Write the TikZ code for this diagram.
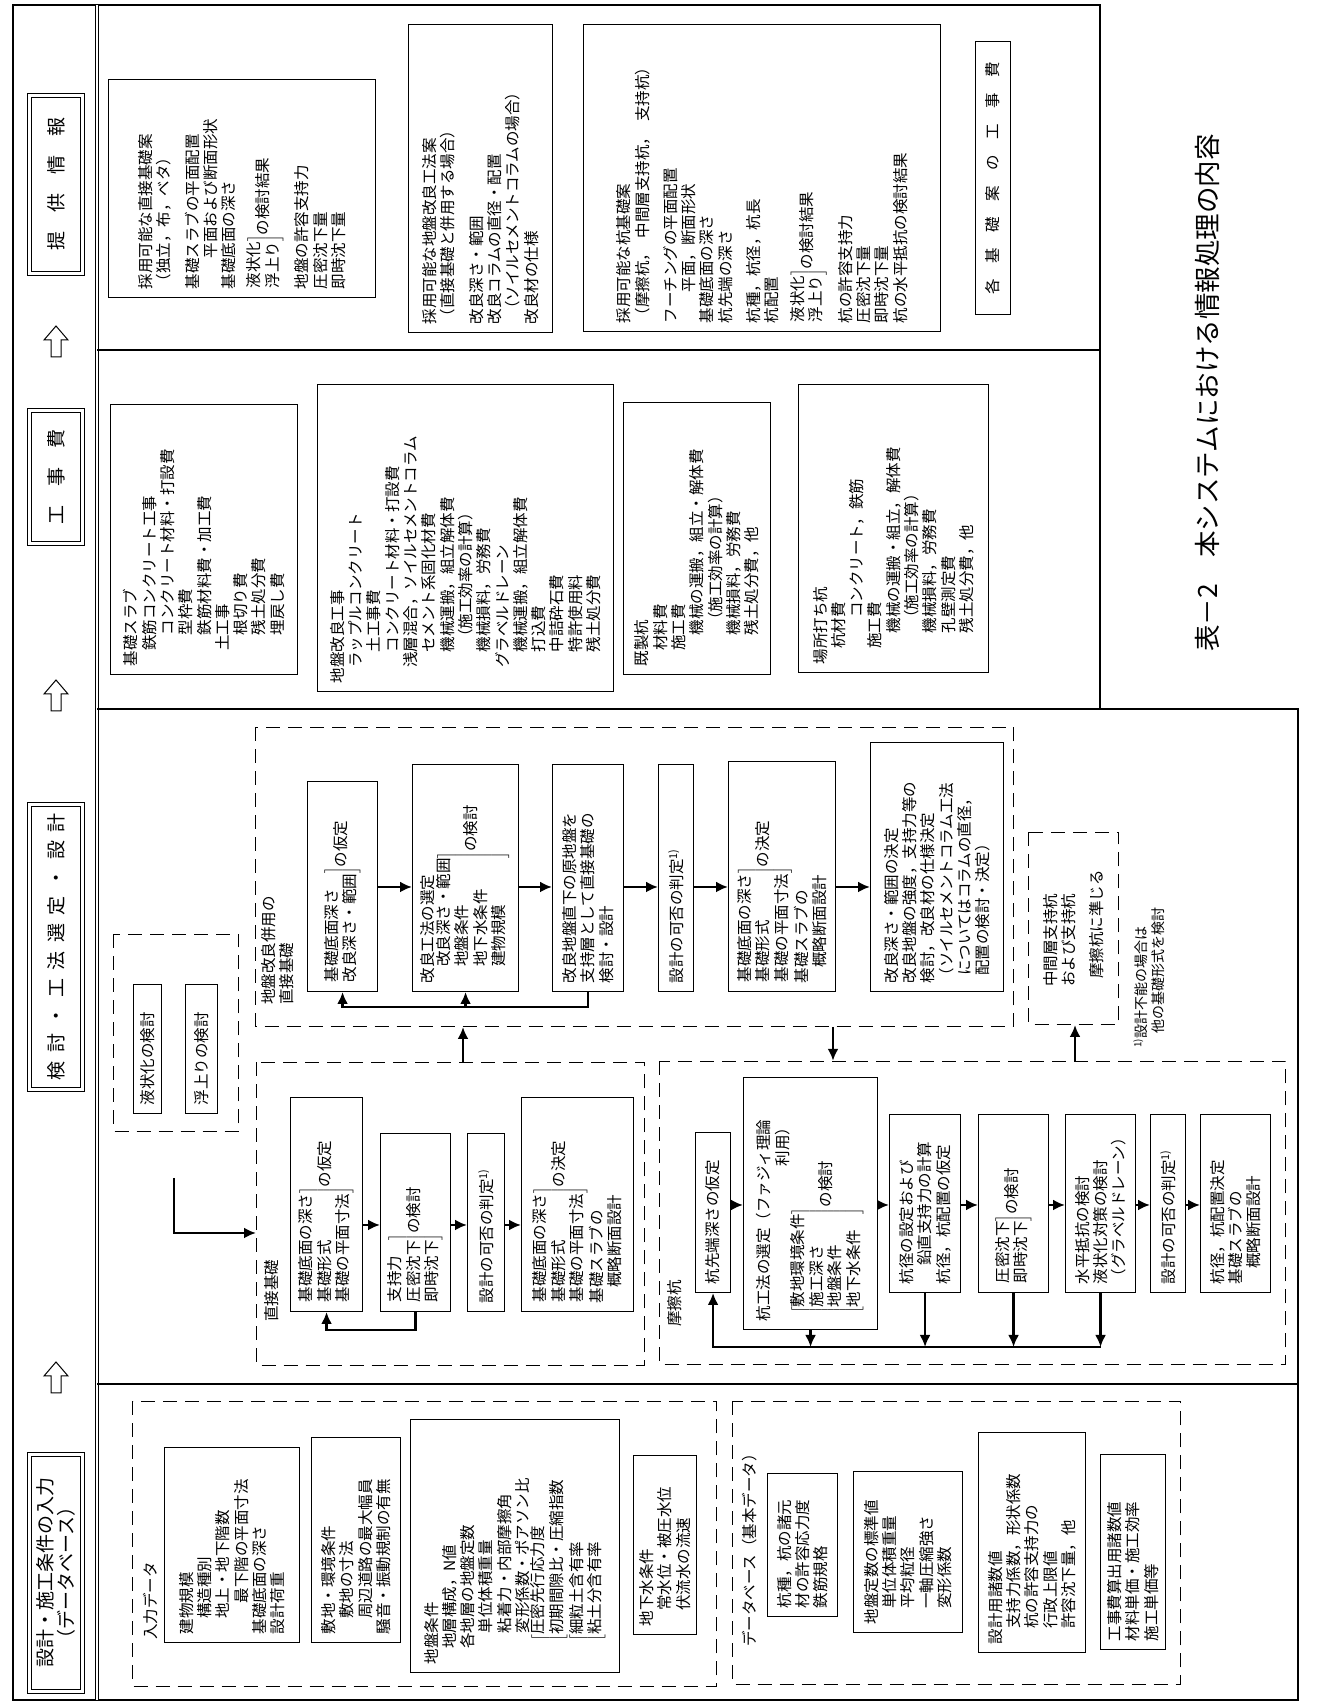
\documentclass[tikz,border=0pt]{standalone}
\usepackage{fontspec}
\setmainfont{Noto Sans CJK JP}
\usetikzlibrary{arrows.meta}

\newcommand{\bodyfont}{\fontsize{15.5}{18.3}\selectfont}
\newcommand{\headfont}{\fontsize{19}{21}\selectfont}
\newcommand{\jind}[1][1]{\hspace*{#1em}}
\newcommand{\rbr}[1]{$\left.\begin{tabular}{@{}l@{}}#1\end{tabular}\right]$}
\newcommand{\lbr}[1]{$\left[\begin{tabular}{@{}l@{}}#1\end{tabular}\right.$}
\newcommand{\bbr}[1]{$\left[\begin{tabular}{@{}l@{}}#1\end{tabular}\right]$}
\newcommand{\fnmark}{\textsuperscript{1)}}

\begin{document}
\begin{tikzpicture}[x=1pt, y=1pt,
  frameline/.style={line width=1.5pt},
  tbox/.style 2 args={draw, line width=1.1pt, align=left, anchor=north west,
    inner sep=3pt, font=\bodyfont, minimum width=#1pt, minimum height=#2pt,
    /utils/exec={\pgfmathsetlengthmacro\boxtw{#1pt-16pt}}, text width=\boxtw},
  cbox/.style 2 args={draw, line width=1.1pt, align=center, anchor=north west,
    inner sep=3pt, font=\bodyfont, minimum width=#1pt, minimum height=#2pt},
  dbox/.style 2 args={draw, line width=1.2pt, dash pattern=on 14pt off 8pt,
    anchor=north west, inner sep=0pt, align=left, font=\bodyfont,
    minimum width=#1pt, minimum height=#2pt},
  hbox/.style 2 args={draw, double, double distance=2.5pt, line width=1.2pt,
    anchor=north west, align=center, inner sep=1pt, font=\headfont,
    minimum width=#1pt, minimum height=#2pt},
  lbl/.style={anchor=west, align=left, inner sep=0pt, font=\bodyfont},
  arr/.style={-{Latex[length=12pt, width=11pt]}, line width=2.6pt},
  hollowarrow/.style={line width=1pt, fill=white}
]
\useasboundingbox (0,0) rectangle (1323,1705);
\begin{scope}[shift={(1323,0)}, rotate=90, transform shape]

% frame
\draw[frameline] (5,1310) -- (1700,1310) -- (1700,223) -- (996,223) -- (996,25) -- (5,25) -- cycle;
\draw[line width=0.9pt, double, double distance=2pt] (5,1226) -- (1700,1226);
\draw[frameline] (321,1226) -- (321,25);
\draw[frameline] (996,1226) -- (996,223);
\draw[frameline] (1355,1226) -- (1355,223);

% header row
\node[hbox={237}{53}] (hinput) at (13,1294) {設計・施工条件の入力\\（データベース）};
\node[hbox={285}{53}] (hstudy) at (615,1294) {検\jind[0.45]討\jind[0.45]・\jind[0.45]工\jind[0.45]法\jind[0.45]選\jind[0.45]定\jind[0.45]・\jind[0.45]設\jind[0.45]計};
\node[hbox={133}{53}] (hcost) at (1161,1294) {工\jind 事\jind 費};
\node[hbox={178}{53}] (hinfo) at (1431,1294) {提\jind 供\jind 情\jind 報};
\foreach \ax in {327,1009,1363}
  \draw[hollowarrow] ({\ax-15},1262) -- ({\ax+2},1262) -- ({\ax+2},1255) -- ({\ax+16},1267)
    -- ({\ax+2},1279) -- ({\ax+2},1272) -- ({\ax-15},1272) -- cycle;

% input data
\node[dbox={285}{584}] (indata) at (18,1191) {};
\node[lbl] (indatalbl) at (65,1172) {入力データ};
\node[tbox={195}{135}] (bldg) at (62,1159) {建物規模\\\jind 構造種別\\\jind 地上・地下階数\\\jind[2]最下階の平面寸法\\基礎底面の深さ\\設計荷重};
\node[tbox={205}{89}] (site) at (62,1012) {敷地・環境条件\\\jind 敷地の寸法\\\jind 周辺道路の最大幅員\\騒音・振動規制の有無};
\node[tbox={253}{209}] (soil) at (32,913) {地盤条件\\\jind 地層構成，N値\\\jind 各地層の地盤定数\\\jind[2]単位体積重量\\\jind[2]粘着力・内部摩擦角\\\jind[2]変形係数・ポアソン比\\\jind[1.5]\lbr{圧密先行応力度\\初期間隙比・圧縮指数}\\\jind[1.5]\lbr{細粒土含有率\\粘土分含有率}};
\node[tbox={179}{63}] (water) at (70,690) {地下水条件\\\jind 常水位・被圧水位\\\jind 伏流水の流速};

% database
\node[dbox={283}{448}] (dbase) at (20,591) {};
\node[lbl] (dbaselbl) at (58,573) {データベース（基本データ）};
\node[tbox={143}{70}] (pilespec) at (88,556) {杭種，杭の諸元\\材の許容応力度\\鉄筋規格};
\node[tbox={161}{109}] (soilstd) at (72,470) {地盤定数の標準値\\\jind 単位体積重量\\\jind 平均粒径\\\jind 一軸圧縮強さ\\\jind 変形係数};
\node[tbox={220}{107}] (designval) at (52,345) {設計用諸数値\\\jind 支持力係数，形状係数\\\jind 杭の許容支持力の\\\jind 行政上限値\\\jind 許容沈下量，他};
\node[tbox={195}{65}] (costval) at (55,223) {工事費算出用諸数値\\材料単価・施工効率\\施工単価等};

% liquefaction and uplift
\node[dbox={197}{125}] (liqgrp) at (573,1210) {};
\node[tbox={129}{28}] (liq) at (591,1190) {液状化の検討};
\node[tbox={129}{32}] (uplift) at (591,1138) {浮上りの検討};

% spread foundation
\node[dbox={303}{388}] (direct) at (339,1067) {};
\node[lbl] (directlbl) at (383,1051) {直接基礎};
\node[tbox={214}{72}] (a1) at (393,1033) {\rbr{基礎底面の深さ\\基礎形式\\基礎の平面寸法}の仮定};
\node[tbox={178}{70}] (a2) at (393,943) {\rbr{支持力\\圧密沈下\\即時沈下}の検討};
\node[tbox={178}{37}] (a3) at (393,856) {設計の可否の判定\fnmark};
\node[tbox={214}{112}] (a4) at (393,802) {\rbr{基礎底面の深さ\\基礎形式\\基礎の平面寸法}の決定\\基礎スラブの\\\jind 概略断面設計};
\coordinate (ax) at (480,0);
\draw[arr] (a1.south -| ax) -- (a2.north -| ax);
\draw[arr] (a2.south -| ax) -- (a3.north -| ax);
\draw[arr] (a3.south -| ax) -- (a4.north -| ax);
\draw[arr] (a2.west) -- ++(-18,0) |- (a1.west);
\coordinate (entry) at (527,1149);
\coordinate (lx) at (472,0);
\draw[arr] (entry) -| (direct.north -| lx);

% spread foundation with soil improvement
\node[dbox={299}{758}] (improve) at (678,1068) {};
\node[lbl, anchor=north west] (improvelbl) at (700,1062) {地盤改良併用の\\直接基礎};
\node[tbox={210}{70}] (c1) at (713,1016) {\rbr{基礎底面深さ\\改良深さ・範囲}の仮定};
\node[tbox={227}{106}] (c2) at (713,911) {改良工法の選定\\\jind\rbr{改良深さ・範囲\\地盤条件\\地下水条件\\建物規模}の検討};
\node[tbox={227}{71}] (c3) at (713,771) {改良地盤直下の原地盤を\\支持層として直接基礎の\\検討・設計};
\node[tbox={227}{35}] (c4) at (713,665) {設計の可否の判定\fnmark};
\node[tbox={230}{107}] (c5) at (713,595) {\rbr{基礎底面の深さ\\基礎形式\\基礎の平面寸法}の決定\\基礎スラブの\\\jind 概略断面設計};
\node[tbox={249}{133}] (c6) at (713,453) {改良深さ・範囲の決定\\改良地盤の強度，支持力等の\\検討，改良材の仕様決定\\（ソイルセメントコラム工法\\\jind[0.5]についてはコラムの直径，\\\jind[0.5]配置の検討・決定）};
\coordinate (cx) at (818,0);
\coordinate (cbus) at (698,0);
\draw[arr] (c1.south -| cx) -- (c2.north -| cx);
\draw[arr] (c2.south -| cx) -- (c3.north -| cx);
\draw[arr] (c3.south -| cx) -- (c4.north -| cx);
\draw[arr] (c4.south -| cx) -- (c5.north -| cx);
\draw[arr] (c5.south -| cx) -- (c6.north -| cx);
\draw[arr] (c3.west) -- (c3.west -| cbus) |- (c1.west);
\draw[arr] (c2.west -| cbus) -- (c2.west);

% intermediate layer piles and note
\node[dbox={192}{90}] (middle) at (680,295) {中間層支持杭\\および支持杭\\[10pt]\jind[0.5]摩擦杭に準じる};
\node[lbl, font=\fontsize{14}{17}\selectfont] (note) at (657,174) {\fnmark 設計不能の場合は\\\jind 他の基礎形式を検討};

% friction piles
\node[dbox={303}{626}] (friction) at (340,664) {};
\node[lbl] (frictionlbl) at (378,648) {摩擦杭};
\node[tbox={160}{35}] (b1) at (412,628) {杭先端深さの仮定};
\node[tbox={252}{134}] (b2) at (375,580) {杭工法の選定（ファジィ理論\\\jind[10]利用）\\\jind[0.5]\bbr{敷地環境条件\\施工深さ\\地盤条件\\地下水条件}の検討};
\node[tbox={178}{71}] (b3) at (412,434) {杭径の設定および\\\jind[1.2]鉛直支持力の計算\\杭径，杭配置の仮定};
\node[tbox={178}{70}] (b4) at (412,345) {\rbr{圧密沈下\\即時沈下}の検討};
\node[tbox={178}{70}] (b5) at (412,258) {水平抵抗の検討\\液状化対策の検討\\（グラベルドレーン）};
\node[tbox={178}{35}] (b6) at (412,173) {設計の可否の判定\fnmark};
\node[tbox={178}{70}] (b7) at (412,123) {杭径，杭配置決定\\基礎スラブの\\\jind 概略断面設計};
\coordinate (bx) at (500,0);
\coordinate (bbus) at (358,0);
\draw[arr] (b1.south -| bx) -- (b2.north -| bx);
\draw[arr] (b2.south -| bx) -- (b3.north -| bx);
\draw[arr] (b3.south -| bx) -- (b4.north -| bx);
\draw[arr] (b4.south -| bx) -- (b5.north -| bx);
\draw[arr] (b5.south -| bx) -- (b6.north -| bx);
\draw[arr] (b6.south -| bx) -- (b7.north -| bx);
\foreach \b in {b2,b3,b4,b5}
  \draw[arr] (\b.west) -- (\b.west -| bbus);
\draw[arr] (b5.west -| bbus) |- (b1.west);

% links between the groups
\coordinate (g1) at (0,860);
\coordinate (g2) at (0,490);
\coordinate (g3) at (0,248);
\draw[arr] (direct.east |- g1) -- (improve.west |- g1);
\draw[arr] (improve.west |- g2) -- (friction.east |- g2);
\draw[arr] (friction.east |- g3) -- (middle.west |- g3);

% construction cost
\node[tbox={270}{187}] (d1) at (1030,1213) {基礎スラブ\\\jind 鉄筋コンクリート工事\\\jind[2]コンクリート材料・打設費\\\jind[2]型枠費\\\jind[2]鉄筋材料費・加工費\\\jind 土工事\\\jind[2]根切り費\\\jind[2]残土処分費\\\jind[2]埋戻し費};
\node[tbox={307}{296}] (d2) at (1013,1006) {地盤改良工事\\\jind ラップルコンクリート\\\jind[2]土工事費\\\jind[2]コンクリート材料・打設費\\\jind 浅層混合，ソイルセメントコラム\\\jind[2]セメント系固化材費\\\jind[2]機械運搬，組立解体費\\\jind[2.5]（施工効率の計算）\\\jind[2]機械損料，労務費\\\jind グラベルドレーン\\\jind[2]機械運搬，組立解体費\\\jind[2]打込費\\\jind[2]中詰砕石費\\\jind[2]特許使用料\\\jind[2]残土処分費};
\node[tbox={272}{147}] (d3) at (1030,700) {既製杭\\\jind 材料費\\\jind 施工費\\\jind[2]機械の運搬，組立・解体費\\\jind[2.5]（施工効率の計算）\\\jind[2]機械損料，労務費\\\jind[2]残土処分費，他};
\node[tbox={288}{190}] (d4) at (1032,525) {場所打ち杭\\\jind 杭材費\\\jind[3]コンクリート，鉄筋\\\jind 施工費\\\jind[2]機械の運搬・組立，解体費\\\jind[2.5]（施工効率の計算）\\\jind[2]機械損料，労務費\\\jind[2]孔壁測定費\\\jind[2]残土処分費，他};

% information provided
\node[tbox={218}{267}] (e1) at (1407,1215) {採用可能な直接基礎案\\（独立，布，ベタ）\\[10pt]基礎スラブの平面配置\\\jind[2]平面および断面形状\\基礎底面の深さ\\[10pt]\rbr{液状化\\浮上り}の検討結果\\[10pt]地盤の許容支持力\\圧密沈下量\\即時沈下量};
\node[tbox={308}{144}] (e2) at (1372,915) {採用可能な地盤改良工法案\\（直接基礎と併用する場合）\\[10pt]改良深さ・範囲\\改良コラムの直径・配置\\\jind[0.5]（ソイルセメントコラムの場合）\\改良材の仕様};
\node[tbox={307}{357}] (e3) at (1373,740) {採用可能な杭基礎案\\（摩擦杭，\jind[0.5]中間層支持杭，\jind[0.5]支持杭）\\[10pt]フーチングの平面配置\\\jind[2]平面，断面形状\\基礎底面の深さ\\杭先端の深さ\\[10pt]杭種，杭径，杭長\\杭配置\\[10pt]\rbr{液状化\\浮上り}の検討結果\\[10pt]杭の許容支持力\\圧密沈下量\\即時沈下量\\杭の水平抵抗の検討結果};
\node[cbox={273}{35}] (e4) at (1390,348) {各\jind 基\jind 礎\jind 案\jind の\jind 工\jind 事\jind 費};

% caption
\node[anchor=west, inner sep=0pt, font=\fontsize{26.5}{30}\selectfont] (caption) at (1053,116) {表－2\jind 本システムにおける情報処理の内容};

\end{scope}
\end{tikzpicture}
\end{document}
